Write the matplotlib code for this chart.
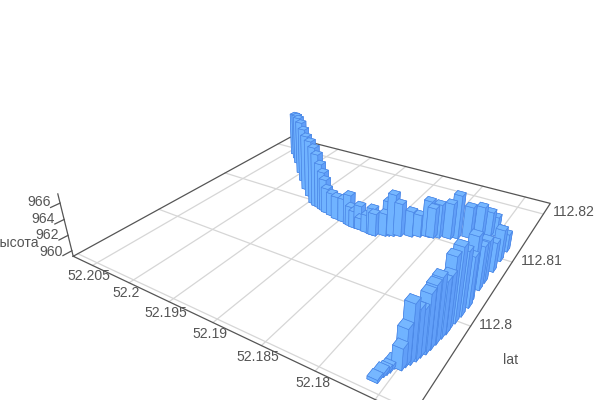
import numpy as np
import matplotlib
matplotlib.use('Agg')
import matplotlib.pyplot as plt
from mpl_toolkits.mplot3d import proj3d

lat = [112.7916,112.7923,112.7926,112.7929,112.7934,112.7935,112.7939,112.7943,112.7948,112.7953,112.7958,112.7964,
       112.7971,112.7979,112.7985,112.7990,112.8000,112.8010,112.8023,112.8029,112.8049,112.8061,112.8080,112.8099,
       112.8117,112.8141,112.8138,112.8135,112.8129,112.8121,112.8114,112.8110,112.8106,112.8103,112.8102,112.8098,
       112.8094,112.8089,112.8086,112.8084,112.8082,112.8077,112.8077,112.8078,112.8079,112.8079,112.8079,112.8080,112.8081,112.8083,112.8084,
       112.8087,112.8089,112.8091,112.8092,112.8094,112.8095,112.8098,112.8109,112.8120,112.8135,112.8150,112.8170,112.8180,112.8189]
lon = [52.1760,52.1759,52.1758,52.1757,52.1756,52.1751,52.1750,52.1748,52.1746,52.1745,52.1743,52.1742,
       52.1741,52.1740,52.1739,52.1739,52.1738,52.1737,52.1736,52.1737,52.1737,52.1737,52.1736,52.1736,
       52.1736,52.1750,52.1754,52.1759,52.1766,52.1775,52.1785,52.1791,52.1801,52.1806,52.1810,52.1818,
       52.1825,52.1835,52.1841,52.1845,52.1848,52.1857,52.1859,52.1866,52.1874,52.1875,52.1881,52.1886,52.1889,52.1897,52.1906,
       52.1914,52.1922,52.1926,52.1929,52.1934,52.1939,52.1945,52.1958,52.1971,52.1986,52.2001,52.2020,52.2030,52.2040]
alt = [959.61,959.72,959.63,959.69,959.89,961.70,963.50,965.90,965.00,964.50,965.90,966.35,
       966.65,965.65,965.85,967.50,967.85,966.75,965.25,967.05,964.55,964.40,962.90,963.20,
       961.50,960.14,961.73,962.39,963.18,963.32,964.89,963.85,963.63,963.15,963.98,962.15,
       962.59,963.56,964.70,963.75,962.20,962.17,962.76,961.60,960.79,962.46,961.50,961.88,963.31,962.40,962.33,
       962.36,962.67,963.65,964.51,965.38,966.49,967.10,967.10,966.96,966.90,966.88,966.30,966.00,965.58]
lon_ticks = [52.18,52.185,52.19,52.195,52.2,52.205]
lon_labels = ['52.18','52.185','52.19','52.195','52.2','52.205']
lat_ticks = [112.8,112.81,112.82]
lat_labels = ['112.8','112.81','112.82']
alt_ticks = [960,962,964,966]
alt_labels = ['960','962','964','966']

LA0, LA1, LO0, LO1, Z0, Z1 = 112.78992, 112.82262, 52.17221, 52.20783, 959.273, 967.098
K, X0, Y0 = 2637.6, 329.739, 199.148
W, H = 600, 400

plt.rcParams['font.family'] = ['Liberation Sans', 'DejaVu Sans']
fig = plt.figure(figsize=(W/100, H/100), dpi=100)
side = K*0.185
left = X0 - K*0.095
bottom = H - (Y0 + K*0.095)
ax = fig.add_axes([left/W, bottom/H, side/W, side/H], projection='3d', computed_zorder=False)
ax.view_init(28.3832, -147.3671)
ax.set_proj_type('persp', focal_length=0.22455)
ax.set_box_aspect((0.98986, 1, 0.18920))
ax.set_xlim(LA0, LA1); ax.set_ylim(LO0, LO1); ax.set_zlim(Z0, Z1)
ax.set_axis_off()

GRID = '#d6d6d6'; AXIS = '#555555'; TXT = '#555555'
for v in [112.7904] + lat_ticks:
    ax.plot([v, v], [LO0, LO1], [Z0, Z0], color=GRID, lw=0.9, zorder=1, clip_on=False)
for v in [52.175] + lon_ticks:
    ax.plot([LA0, LA1], [v, v], [Z0, Z0], color=GRID, lw=0.9, zorder=1, clip_on=False)
ax.plot([LA0, LA1, LA1, LA0, LA0], [LO1, LO1, LO0, LO0, LO1], [Z0]*5, color=AXIS, lw=0.9, zorder=2, clip_on=False)
ax.plot([LA0, LA0], [LO1, LO1], [Z0, Z1], color=AXIS, lw=0.9, zorder=2, clip_on=False)
for v in alt_ticks:
    ax.plot([LA0, LA0-0.0009], [LO1, LO1], [v, v], color=AXIS, lw=0.9, zorder=2, clip_on=False)

M = ax.get_proj()
_, _, depth = proj3d.proj_transform(np.array(lat), np.array(lon), np.array(alt)*0+Z0, M)
rank = np.empty(len(lat), int)
rank[np.argsort(-depth)] = np.arange(len(lat))
DX, DY = 0.00080, 0.00086
#           bottom     top        -y         +y         -x         +x
FACES = ['#5c9df5', '#76b7ff', '#619ff8', '#619ff8', '#70b3ff', '#70b3ff']
for i in range(len(lat)):
    ax.bar3d(lat[i]-DX/2, lon[i]-DY/2, Z0, DX, DY, alt[i]-Z0, color=FACES, shade=False,
             edgecolor='#4a86e6', linewidth=0.45, zorder=10+rank[i])

def put(x, y, s, **kw):
    fig.text(x/W, 1-y/H, s, fontsize=10.08, color=TXT, va='center', ha=kw.pop('ha', 'center'), **kw)
lon_px = [(312.7,382.7),(258.3,357),(209.7,334),(166,312.7),(125.8,293),(88.7,276)]
lat_px = [(496,325),(541.7,261),(574,212)]
alt_px = [(50.8,251.7),(47,235),(42.8,219.3),(38.7,202.3)]
for (x, y), s in zip(lon_px, lon_labels): put(x, y, s)
for (x, y), s in zip(lat_px, lat_labels): put(x, y, s)
for (x, y), s in zip(alt_px, alt_labels): put(x, y, s)
put(511, 360, 'lat')
put(39, 243.3, 'высота', ha='right')
fig.savefig('out.png', dpi=100)
